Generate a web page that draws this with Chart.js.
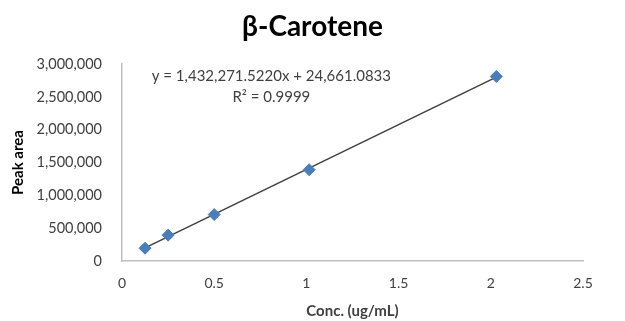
<!DOCTYPE html>
<html>
  <head>
    <title>Beta-Carotene calibration</title>
    <script src="https://cdn.jsdelivr.net/npm/chart.js"></script>
    <style>
      body { margin: 0; background: #fff; }
      #wrap { width: 625px; height: 321px; }
    </style>
  </head>
  <body>
    <div id="wrap"><canvas id="calib"></canvas></div>
    <script>
      // data
      var concValues = [0.125, 0.25, 0.5, 1.015, 2.03];
      var peakAreas = [195000, 394000, 707000, 1390000, 2810000];
      var chartTitle = "\u03b2-Carotene";
      var equationLines = ["y = 1,432,271.5220x + 24,661.0833", "R\u00b2 = 0.9999"];

      // least squares fit for the trendline
      var n = concValues.length, sx = 0, sy = 0, sxx = 0, sxy = 0;
      for (var i = 0; i < n; i++) {
        sx += concValues[i]; sy += peakAreas[i];
        sxx += concValues[i] * concValues[i]; sxy += concValues[i] * peakAreas[i];
      }
      var slope = (n * sxy - sx * sy) / (n * sxx - sx * sx);
      var icpt = (sy - slope * sx) / n;
      var xMin = Math.min.apply(null, concValues), xMax = Math.max.apply(null, concValues);
      var trend = [
        { x: xMin, y: slope * xMin + icpt },
        { x: xMax, y: slope * xMax + icpt },
      ];

      var points = concValues.map(function (c, i) { return { x: c, y: peakAreas[i] }; });

      var font = "Lato, 'Open Sans', sans-serif";

      // title centred on the whole canvas + trendline equation
      var textPlugin = {
        id: "textBits",
        afterDraw: function (chart) {
          var ctx = chart.ctx;
          ctx.save();
          ctx.textAlign = "center";
          ctx.textBaseline = "middle";
          ctx.fillStyle = "#000";
          ctx.font = "bold 28px " + font;
          ctx.fillText(chartTitle, chart.width / 2, 27);

          ctx.fillStyle = "#404040";
          ctx.font = "15px " + font;
          var xs = chart.scales.x, ys = chart.scales.y;
          var cx = xs.getPixelForValue(0.81);
          ctx.fillText(equationLines[0], cx, ys.getPixelForValue(2810000));
          ctx.fillText(equationLines[1], cx, ys.getPixelForValue(2490000));
          ctx.restore();
        },
      };

      new Chart(document.getElementById("calib"), {
        type: "scatter",
        data: {
          datasets: [
            {
              label: "Trendline",
              data: trend,
              showLine: true,
              borderColor: "#404040",
              borderWidth: 1.5,
              pointRadius: 0,
              order: 2,
            },
            {
              label: "Peak area",
              data: points,
              pointStyle: "rectRot",
              pointRadius: 6,
              backgroundColor: "#4a7ebb",
              borderColor: "#4a7ebb",
              order: 1,
            },
          ],
        },
        options: {
          responsive: true,
          maintainAspectRatio: false,
          animation: false,
          layout: { padding: { left: 9, right: 42, top: 64, bottom: 0 } },
          plugins: {
            legend: { display: false },
            tooltip: { enabled: false },
            title: { display: false },
          },
          scales: {
            x: {
              type: "linear",
              min: 0,
              max: 2.5,
              ticks: {
                stepSize: 0.5,
                color: "#404040",
                font: { family: font, size: 14 },
                padding: 14,
                callback: function (v) { return v; },
              },
              grid: { display: false, drawTicks: false },
              border: { color: "#bfbfbf", width: 1.5 },
              title: {
                display: true,
                text: "Conc. (ug/mL)",
                color: "#404040",
                font: { family: font, size: 15, weight: "bold" },
                padding: { top: 0, bottom: 1 },
              },
              afterFit: function (s) { s.height = 60; },
            },
            y: {
              min: 0,
              max: 3000000,
              ticks: {
                stepSize: 500000,
                color: "#404040",
                font: { family: font, size: 14.5 },
                padding: 20,
                callback: function (v) { return v.toLocaleString("en-US"); },
              },
              grid: { display: false, drawTicks: false },
              border: { color: "#bfbfbf", width: 1.5 },
              title: {
                display: true,
                text: "Peak area",
                color: "#000",
                font: { family: font, size: 15, weight: "bold" },
                padding: { top: 0, bottom: 0 },
              },
              afterFit: function (s) { s.width = 113; },
            },
          },
        },
        plugins: [textPlugin],
      });
    </script>
  </body>
</html>
